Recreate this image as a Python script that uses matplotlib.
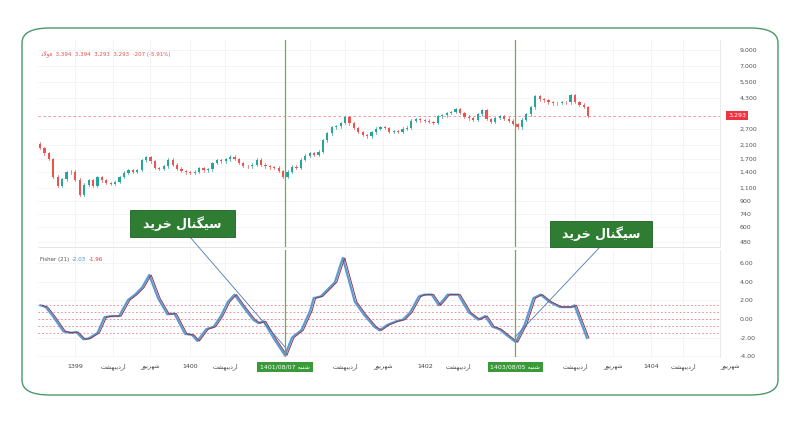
import matplotlib
matplotlib.use("Agg")
import matplotlib.pyplot as plt
import matplotlib.transforms as mtransforms
from matplotlib.patches import FancyBboxPatch, Rectangle
from matplotlib.lines import Line2D
import numpy as np

# ---------------- data ----------------
closes = [2008, 1850, 1700, 1300, 1130, 1250, 1390, 1400, 1240, 990,
          1150, 1230, 1130, 1290, 1230, 1180, 1170, 1200, 1290, 1380,
          1430, 1400, 1440, 1670, 1750, 1640, 1480, 1460, 1520, 1680,
          1560, 1470, 1420, 1390, 1380, 1400, 1480, 1430, 1450, 1600,
          1670, 1640, 1690, 1760, 1700, 1600, 1530, 1520, 1560, 1680,
          1560, 1520, 1500, 1490, 1420, 1290, 1400, 1510, 1480, 1680,
          1790, 1860, 1820, 1900, 2260, 2520, 2760, 2800, 2950, 3200,
          2930, 2720, 2560, 2450, 2400, 2550, 2700, 2760, 2720, 2560,
          2600, 2560, 2700, 2740, 3050, 3120, 3070, 3050, 2990, 2960,
          3250, 3300, 3420, 3480, 3640, 3420, 3240, 3160, 3100, 3350,
          3570, 3120, 2980, 3180, 3270, 3140, 3050, 2900, 2760, 3100,
          3350, 3740, 4420, 4230, 4150, 4040, 3980, 3990, 4050, 4030,
          4500, 4060, 3900, 3750, 3293]
first_open = 2150
last_price = 3293

fisher_x = [0.1, 1.3, 2.9, 5.3, 6.9, 8.2, 9.8, 11, 13, 14.6, 16.2, 17.9, 19.9, 21.5,
            23.1, 24.7, 26.7, 28.8, 30.4, 32.8, 34.4, 35.6, 37.6, 39.3, 40.9, 42.5,
            44, 45.7, 48.2, 49.4, 50.6, 53, 55.4, 57, 59.1, 61.1, 61.9, 63.5, 65.1,
            66.7, 68, 68.5, 69.2, 71.2, 73.2, 75.6, 76.8, 78.5, 80.5, 82.1, 83.7,
            85.7, 86.9, 88.6, 90.2, 92.2, 94.6, 97, 99.1, 100.7, 102.3, 103.9,
            105.5, 107.6, 109.6, 111.6, 113.2, 115.2, 117.6, 120.1, 120.9, 122.1, 123.7]
fisher_v = [1.47, 1.28, 0.31, -1.34, -1.49, -1.41, -2.18, -2.1, -1.49, 0.2, 0.31, 0.31,
            2.04, 2.62, 3.39, 4.73, 2.24, 0.51, 0.58, -1.6, -1.72, -2.37, -1.1, -0.83,
            0.31, 1.85, 2.62, 1.47, -0.07, -0.45, -0.26, -2.18, -3.91, -1.99, -1.22,
            0.89, 2.24, 2.43, 3.19, 3.96, 5.88, 6.57, 5.31, 1.85, 0.51, -0.83, -1.22,
            -0.65, -0.26, -0.07, 0.7, 2.43, 2.62, 2.62, 1.47, 2.62, 2.62, 0.7, -0.07,
            0.31, -0.83, -1.1, -1.72, -2.49, -0.65, 2.24, 2.62, 1.85, 1.28, 1.28, 1.47,
            -0.07, -2.03]
fisher_levels = [1.5, 0.75, 0, -0.75, -1.5]

price_ticks = [9000, 7000, 5500, 4300, 2700, 2100, 1700, 1400, 1100, 900, 740, 600, 480]
fisher_ticks = [6, 4, 2, 0, -2, -4]

# shaped Persian strings (visual order, presentation forms)
SIGNAL = "\uFEAA\uFBFE\uFEAE\uFEA7 \uFEDD\uFE8E\uFEE8\uFB95\uFBFF\uFEB3"
ORDIBEHESHT = "\uFE96\uFEB8\uFEEC\uFE92\uFBFE\uFEA9\uFEAD\uFE8D"
SHAHRIVAR = "\uFEAD\uFEEE\uFBFE\uFEAE\uFEEC\uFEB7"
SHANBE = "\uFEEA\uFE92\uFEE8\uFEB7"
FOULAD = "\uFEA9\uFEFB\uFEEE\uFED3"

x_labels = ["1399", ORDIBEHESHT, SHAHRIVAR, "1400", ORDIBEHESHT, "1401", ORDIBEHESHT,
            SHAHRIVAR, "1402", ORDIBEHESHT, "1403", ORDIBEHESHT, SHAHRIVAR, "1404",
            ORDIBEHESHT, SHAHRIVAR]
x_label_pos = [7.9, 16.5, 24.9, 33.9, 41.9, 61.1, 69, 77.6, 87.1, 94.6, 114.3, 121,
               129.6, 138.2, 145.5, 156.1]
signals = [55.4, 107.5]
signal_dates = ["1401/08/07", "1403/08/05"]

# ---------------- figure ----------------
W, H = 800, 422
fig = plt.figure(figsize=(8, 4.22), dpi=100)
fig.patch.set_facecolor("white")
plt.rcParams['font.family'] = ['DejaVu Sans']

def fx(px): return px / W
def fy(py): return 1 - py / H

card = FancyBboxPatch((fx(22), fy(395)), fx(778) - fx(22), fy(28) - fy(395),
                      boxstyle="round,pad=0,rounding_size=0.035",
                      transform=fig.transFigure, facecolor="white",
                      edgecolor="#4a9a6a", lw=1.0, zorder=-5)
fig.patches.append(card)

L, R = 38, 720
axp = fig.add_axes([fx(L), fy(247), fx(R) - fx(L), fy(40) - fy(247)])
axf = fig.add_axes([fx(L), fy(357), fx(R) - fx(L), fy(250) - fy(357)])
for ax in (axp, axf):
    ax.set_facecolor("none")
xmin, xmax = -0.45, 153.8

up, dn = "#26a69a", "#ef5350"
opens = [first_open] + closes[:-1]
for i, (o, c) in enumerate(zip(opens, closes)):
    col = up if c >= o else dn
    hi, lo = max(o, c) * 1.02, min(o, c) * 0.98
    axp.plot([i, i], [lo, hi], color=col, lw=0.5, zorder=3)
    axp.add_patch(Rectangle((i - 0.25, min(o, c)), 0.5, max(abs(c - o), 1),
                            color=col, zorder=4, lw=0))
axp.set_yscale("log")
axp.set_ylim(445, 10420)
axp.set_xlim(xmin, xmax)
axp.axhline(last_price, color="#ef5350", lw=0.6, ls=(0, (3, 3)), alpha=0.7)

axf.plot(fisher_x, fisher_v, color="#5b9bd5", lw=1.6, zorder=3)
axf.plot([x + 0.45 for x in fisher_x], fisher_v, color="#8b3a4a", lw=0.7, zorder=4)
for lv in fisher_levels:
    axf.axhline(lv, color="#e06070", lw=0.6, ls=(0, (2, 2.5)), alpha=0.8)
axf.set_ylim(-4.09, 7.42)
axf.set_xlim(xmin, xmax)

for ax, ticks, labs in [(axp, price_ticks, [f"{t:,}" for t in price_ticks]),
                        (axf, fisher_ticks, [f"{t:.2f}" for t in fisher_ticks])]:
    ax.yaxis.tick_right()
    ax.set_yticks(ticks)
    ax.set_yticklabels(labs)
    ax.minorticks_off()
    ax.tick_params(axis="y", length=0, labelsize=4.5, labelcolor="#555555", pad=14)
    ax.tick_params(axis="x", length=0, labelbottom=False)
    ax.set_xticks(x_label_pos[:-1])
    ax.grid(True, color="#f0f0f0", lw=0.5)
    for s in ["top", "left", "bottom"]:
        ax.spines[s].set_visible(False)
    ax.spines["right"].set_color("#e6e6e6")
    ax.spines["right"].set_linewidth(0.6)
axp.spines["bottom"].set_visible(True)
axp.spines["bottom"].set_color("#e0e0e0")
axp.spines["bottom"].set_linewidth(0.6)

for s in signals:
    for ax in (axp, axf):
        ax.axvline(s, color="#6ab04c", lw=0.9, zorder=5)

# header & legends
axp.text(0.005, 0.95, f"{FOULAD}  3,394  3,394  3,293  3,293  -207 (-5.91%)",
         transform=axp.transAxes, fontsize=4, color="#e05050", va="top")
axf.text(0.003, 0.93, "Fisher (21)", transform=axf.transAxes, fontsize=4, color="#555", va="top")
axf.text(0.05, 0.93, "-2.03", transform=axf.transAxes, fontsize=4, color="#3d8fe0", va="top")
axf.text(0.075, 0.93, "-1.96", transform=axf.transAxes, fontsize=4, color="#d04050", va="top")
axp.text(1.012, last_price, "3,293",
         transform=mtransforms.blended_transform_factory(axp.transAxes, axp.transData),
         fontsize=4.5, color="white", va="center", ha="left",
         bbox=dict(boxstyle="square,pad=0.3", fc="#ef3340", ec="none"))

# bottom labels (the "1401"/"1403" year labels sit mostly under the date boxes)
tb = mtransforms.blended_transform_factory(axf.transData, fig.transFigure)
for lab, xp in zip(x_labels, x_label_pos):
    if lab in ("1401", "1403"):
        continue
    fig.text(xp, fy(367), lab, transform=tb, fontsize=4.5, color="#444",
             ha="center", va="center")
for s, d in zip(signals, signal_dates):
    fig.text(s, fy(367), f"{d} {SHANBE}", transform=tb, fontsize=4.5, color="white",
             ha="center", va="center", zorder=10,
             bbox=dict(boxstyle="square,pad=0.45", fc="#3a9a3a", ec="none"))

# signal annotations
for (bx0, by0, bx1, by1), (lx0, ly0, lx1, ly1) in [
        ((130, 210, 235, 237), (190, 237, 285, 347)),
        ((550, 221, 652, 247), (600, 247, 515, 337))]:
    fig.patches.append(Rectangle((fx(bx0), fy(by1)), fx(bx1) - fx(bx0), fy(by0) - fy(by1),
                                 transform=fig.transFigure, fc="#2f7d32", ec="#1f5f22",
                                 lw=0.6, zorder=8))
    fig.text((fx(bx0) + fx(bx1)) / 2, (fy(by0) + fy(by1)) / 2, SIGNAL, fontsize=9,
             color="white", weight="bold", ha="center", va="center", zorder=9)
    fig.lines.append(Line2D([fx(lx0), fx(lx1)], [fy(ly0), fy(ly1)], transform=fig.transFigure,
                            color="#4a78b0", lw=0.6, zorder=7))

fig.savefig("out.png", dpi=100)
